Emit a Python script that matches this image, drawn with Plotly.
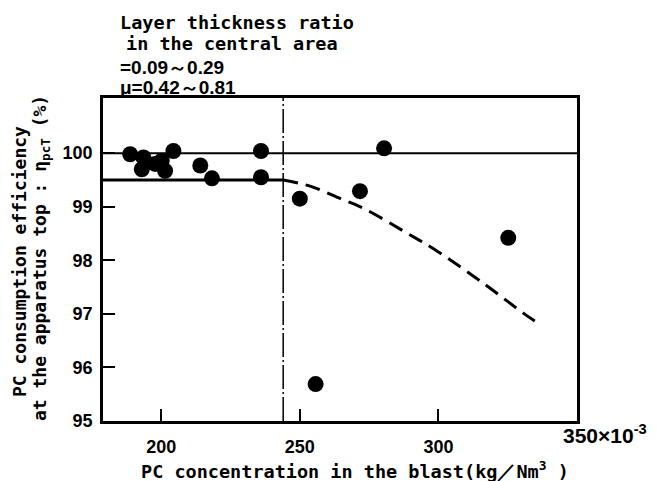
import plotly.graph_objects as go

# ---- data ----
pc_conc = [188.8, 193.6, 193.0, 197.8, 200.2, 201.4, 204.4, 214.1, 218.3,
           236.0, 236.0, 250.0, 255.7, 271.7, 280.4, 325.2]
pc_eff = [99.98, 99.92, 99.70, 99.80, 99.86, 99.67, 100.04, 99.77, 99.53,
          100.04, 99.55, 99.15, 95.69, 99.29, 100.09, 98.42]

plateau_x = [179, 244]
plateau_y = [99.5, 99.5]

trend_x = [244, 254, 264.7, 273, 287.6, 299.6, 316.5, 331, 337]
trend_y = [99.5, 99.38, 99.15, 98.97, 98.54, 98.17, 97.56, 97.0, 96.79]

upper_x = [179, 350]
upper_y = [100.0, 100.0]

limit_x = [244, 244]
limit_y = [95, 101.03]

x_ticks = [200, 250, 300]
y_ticks = [95, 96, 97, 98, 99, 100]

W, H = 657, 481
L, R, T, B = 103, 80, 98, 60
PLOT_H = H - T - B

fig = go.Figure()

fig.add_trace(go.Scatter(x=upper_x, y=upper_y, mode="lines",
                         line=dict(color="black", width=2), hoverinfo="skip"))
fig.add_trace(go.Scatter(x=limit_x, y=limit_y, mode="lines",
                         line=dict(color="black", width=1.5, dash="24px,3px,2px,3px"),
                         hoverinfo="skip"))
fig.add_trace(go.Scatter(x=plateau_x, y=plateau_y, mode="lines",
                         line=dict(color="black", width=3), hoverinfo="skip"))
fig.add_trace(go.Scatter(x=trend_x, y=trend_y, mode="lines",
                         line=dict(color="black", width=3, dash="15px,8px", shape="spline"),
                         hoverinfo="skip"))
fig.add_trace(go.Scatter(x=pc_conc, y=pc_eff, mode="markers",
                         marker=dict(color="black", size=16)))

tick_font = dict(family="Liberation Sans, Arial, sans-serif", size=18, color="black", weight="bold")
mono = "DejaVu Sans Mono, monospace"

fig.update_layout(
    width=W, height=H,
    margin=dict(l=L, r=R, t=T, b=B),
    paper_bgcolor="white", plot_bgcolor="white",
    showlegend=False,
    xaxis=dict(range=[179, 350], tickvals=x_ticks, ticktext=[str(v) for v in x_ticks],
               ticks="inside", ticklen=12, tickwidth=2, tickcolor="black",
               showgrid=False, zeroline=False, showline=True, linewidth=2.5,
               linecolor="black", mirror=True, tickfont=tick_font,
               ticklabelstandoff=8),
    yaxis=dict(range=[95, 101.03], tickvals=y_ticks, ticktext=[str(v) for v in y_ticks],
               ticks="inside", ticklen=12, tickwidth=2, tickcolor="black",
               showgrid=False, zeroline=False, showline=True, linewidth=2.5,
               linecolor="black", mirror=True, tickfont=tick_font,
               ticklabelstandoff=4),
)

def py_to_shift(py):
    return T - py  # relative to paper y=1

ann_common = dict(xref="paper", yref="paper", showarrow=False)

# header lines
fig.add_annotation(text="Layer thickness ratio", x=0, y=1, xanchor="left", yanchor="middle",
                   xshift=15, yshift=py_to_shift(22),
                   font=dict(family=mono, size=18.5, color="black", weight="bold"), **ann_common)
fig.add_annotation(text="in the central area", x=0, y=1, xanchor="left", yanchor="middle",
                   xshift=21, yshift=py_to_shift(43),
                   font=dict(family=mono, size=18.5, color="black", weight="bold"), **ann_common)
fig.add_annotation(text="=0.09～0.29", x=0, y=1, xanchor="left", yanchor="middle",
                   xshift=15, yshift=py_to_shift(67),
                   font=dict(family="Liberation Sans, Arial, sans-serif", size=19, color="black", weight="bold"),
                   **ann_common)
fig.add_annotation(text="μ=0.42～0.81", x=0, y=1, xanchor="left", yanchor="middle",
                   xshift=15, yshift=py_to_shift(87),
                   font=dict(family="Liberation Sans, Arial, sans-serif", size=19, color="black", weight="bold"),
                   **ann_common)

# y axis title (two rotated lines)
fig.add_annotation(text="PC consumption efficiency", x=0, y=0.5, xanchor="center", yanchor="middle",
                   xshift=19 - L, yshift=(T + PLOT_H / 2) - 262, textangle=-90,
                   font=dict(family=mono, size=18, color="black", weight="bold"), **ann_common)
fig.add_annotation(text="at the apparatus top : η<sub>pcT</sub> (%)", x=0, y=0.5,
                   xanchor="center", yanchor="middle",
                   xshift=41 - L, yshift=(T + PLOT_H / 2) - 258, textangle=-90,
                   font=dict(family=mono, size=18, color="black", weight="bold"), **ann_common)

# x axis title
fig.add_annotation(text="PC concentration in the blast(kg／Nm<sup>3</sup> )", x=0, y=0,
                   xanchor="center", yanchor="middle",
                   xshift=355 - L, yshift=(H - B) - 470,
                   font=dict(family=mono, size=18.5, color="black", weight="bold"), **ann_common)

# right-end tick label with exponent
fig.add_annotation(text="350×10<sup>-3</sup>", x=1, y=0, xanchor="left", yanchor="middle",
                   xshift=561 - (W - R), yshift=(H - B) - 434,
                   font=dict(family="Liberation Sans, Arial, sans-serif", size=21, color="black", weight="bold"),
                   **ann_common)

fig.write_html("out.html",
               config={"displayModeBar": False},
               post_script="document.body.style.margin='0';document.body.style.overflow='hidden';")
